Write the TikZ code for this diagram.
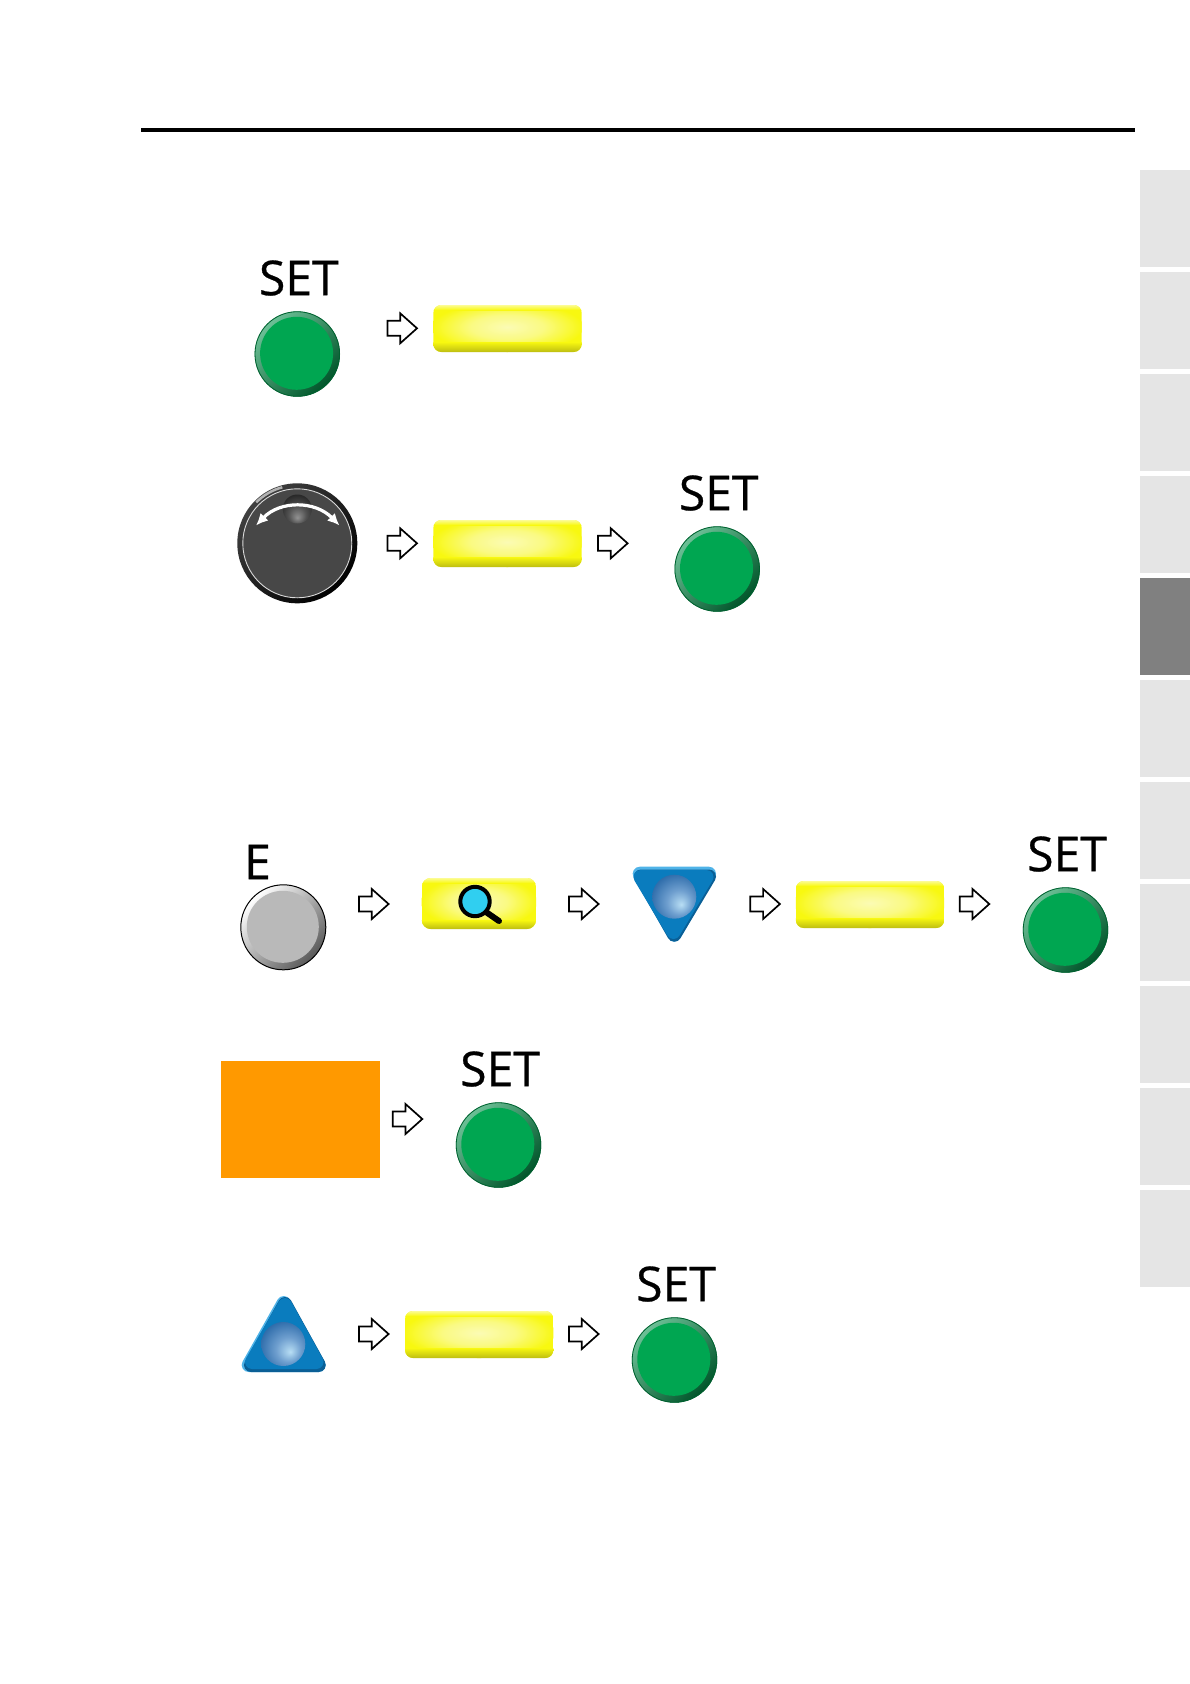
\documentclass[tikz,border=0pt]{standalone}
\usepackage{fontspec}
\setmainfont{Open Sans}
\newfontfamily\lblfont[FakeBold=0.6]{Open Sans}
\usetikzlibrary{calc,arrows.meta}
\definecolor{tabgray}{HTML}{E5E5E5}
\definecolor{tabdark}{HTML}{808080}
\definecolor{btngreen}{HTML}{00A651}
\definecolor{btnorange}{HTML}{FF9900}
\definecolor{triblue}{HTML}{0A7CBE}
\definecolor{trilight}{HTML}{4FB3E8}
\definecolor{tridark}{HTML}{0A5F96}
\definecolor{sphA}{HTML}{B8DEF4}
\definecolor{sphB}{HTML}{6F9FCF}
\definecolor{sphC}{HTML}{2F6DAB}
\definecolor{sphD}{HTML}{1F5A98}
\definecolor{lens}{HTML}{30CFF0}
\definecolor{rimlight}{HTML}{6CC096}
\definecolor{rimdark}{HTML}{00552A}
\definecolor{barbase}{HTML}{F8F810}
\definecolor{barpale}{HTML}{FBFBB4}
\definecolor{barolive}{HTML}{BDBD12}
\pgfdeclareradialshading{sphereup}{\pgfpoint{8bp}{-9bp}}{color(0bp)=(sphA); color(14bp)=(sphB); color(30bp)=(sphC); color(50bp)=(sphD)}
\pgfdeclareradialshading{notchball}{\pgfpoint{0bp}{-15bp}}{color(0bp)=(gray!85!white); color(15bp)=(gray!65!black); color(36bp)=(black!90); color(50bp)=(black!90)}
\pgfdeclareradialshading{barglow}{\pgfpoint{0bp}{0bp}}{color(0bp)=(barpale); color(12bp)=(barpale!70!barbase); color(25bp)=(barbase); color(50bp)=(barbase)}
\tikzset{
  x=1pt,y=-1pt,
  lbl/.style={font=\lblfont\fontsize{48}{48}\selectfont,inner sep=0pt,text=black},
  flow/.pic={\draw[black,line width=1.7pt,fill=white,line join=miter]
      (0.7,-7.5)--(13.5,-7.5)--(13.5,-15)--(30.3,0)--(13.5,15)--(13.5,7.5)--(0.7,7.5)--cycle;},
  setbtn/.pic={
    \shade[left color=rimlight,right color=rimdark,shading angle=45] (0,0) circle (42.7);
    \draw[rimdark!85!btngreen,line width=.8pt] (0,0) circle (42.3);
    \fill[btngreen] (-.7,-.7) circle (36.5);
    \node[lbl] (-label) at (1.5,-76) {SET};},
  bar/.pic={
    \begin{scope}
    \clip[rounded corners=8pt] (0,0) rectangle (148.4,47);
    \fill[barbase] (0,0) rectangle (148.4,47);
    \shade[shading=barglow] (74,22) ellipse (76 and 25);
    \shade[top color=barbase,bottom color=barolive] (0,37) rectangle (148.4,47);
    \shade[top color=barbase!45!white,bottom color=barbase] (0,0) rectangle (148.4,5);
    \end{scope}},
}
\begin{document}
\begin{tikzpicture}
\useasboundingbox (0,0) rectangle (1190,1684);
\fill[white] (0,0) rectangle (1190,1684);
% header rule
\draw[black,line width=3.2pt] (141,130)--(1135,130);
% side tabs
\foreach \i in {0,...,10}{
  \pgfmathsetmacro{\yy}{169.7+102.05*\i}
  \fill[tabgray] (1140,\yy) rectangle (1190,\yy+97);
}
\fill[tabdark] (1140,578) rectangle (1190,675);
% row 1
\pic (b1) at (297.3,354) {setbtn};
\pic (a1) at (386.7,328.3) {flow};
\pic (y1) at (433.3,305) {bar};
% row 2: dial
\shade[left color=black!75,right color=black,shading angle=45] (297.3,543.3) circle (60);
\draw[white!70!black,line width=2.5pt] (297.3,543.3) ++(-135:58) arc (-135:-105:58);
\fill[black!72] (297.3,543.3) circle (54.5);
\draw[white!85!black,line width=.9pt] (297.3,543.3) circle (54.5);
\shade[shading=notchball] (297.3,509) circle (14.5);
\draw[white,line width=3.2pt,{Latex[length=12pt,width=11pt]}-{Latex[length=12pt,width=11pt]}] (256,525.5) .. controls (280,500.5) and (315,500.5) .. (339.5,525.5);
\pic (a2) at (386.7,543.3) {flow};
\pic (y2) at (433.3,520) {bar};
\pic (a3) at (597.3,543.3) {flow};
\pic (b2) at (717.2,569) {setbtn};
% row 3
\shade[left color=white,right color=gray!70!black,shading angle=45] (283.3,927.3) circle (42.5);
\draw[black,line width=1pt] (283.3,927.3) circle (42.5);
\fill[gray!55!white] (282.8,926.8) circle (36);
\node[lbl] (elabel) at (257.5,862) {E};
\pic (a4) at (358.3,904) {flow};
% magnifier bar
\begin{scope}
\clip[rounded corners=9pt] (421.7,878) rectangle (536,929);
\fill[barbase] (421.7,878) rectangle (536,929);
\shade[shading=barglow] (479,902) ellipse (58 and 26);
\shade[top color=barbase,bottom color=barolive] (421.7,920) rectangle (536,929);
\shade[top color=barbase!45!white,bottom color=barbase] (421.7,878) rectangle (536,883);
\end{scope}
\draw[black,line width=6pt,line cap=round] (486,912)--(499,921);
\draw[black,line width=4pt,fill=lens] (475,901.5) circle (14.7);
\pic (a5) at (568.3,904) {flow};
% triangle down
\draw[trilight,fill=trilight,line width=14pt,line join=round] (639.7,873.7) -- (709,873.7) -- (674.3,934.7) -- cycle;
\draw[tridark,fill=tridark,line width=14pt,line join=round] (641,876.5) -- (709,876.5) -- (674.3,934.7) -- cycle;
\draw[triblue,fill=triblue,line width=14pt,line join=round] (640.5,877) -- (706.5,877) -- (673.5,932) -- cycle;
\shade[shading=sphereup] (674.3,896.7) circle (22);
\pic (a6) at (749.6,904) {flow};
\pic (y3) at (795.8,881) {bar};
\pic (a7) at (959,904) {flow};
\pic (b3) at (1065.5,930) {setbtn};
% row 4
\node[fill=btnorange,inner sep=0pt,minimum width=159pt,minimum height=117pt,anchor=north west] (orange) at (221,1061) {};
\pic (a8) at (392,1119) {flow};
\pic (b4) at (498.5,1145) {setbtn};
% row 5: triangle up
\draw[trilight,fill=trilight,line width=14pt,line join=round] (248.7,1365) -- (318.7,1365) -- (283.7,1303) -- cycle;
\draw[tridark,fill=tridark,line width=14pt,line join=round] (251,1365) -- (318.7,1365) -- (285,1304) -- cycle;
\draw[triblue,fill=triblue,line width=14pt,line join=round] (252,1362) -- (316.5,1362) -- (285,1305) -- cycle;
\shade[shading=sphereup] (283.3,1344) circle (22);
\pic (a9) at (358.3,1334) {flow};
\pic (y4) at (405,1311) {bar};
\pic (a10) at (568.3,1334) {flow};
\pic (b5) at (674.5,1360) {setbtn};
\end{tikzpicture}
\end{document}
